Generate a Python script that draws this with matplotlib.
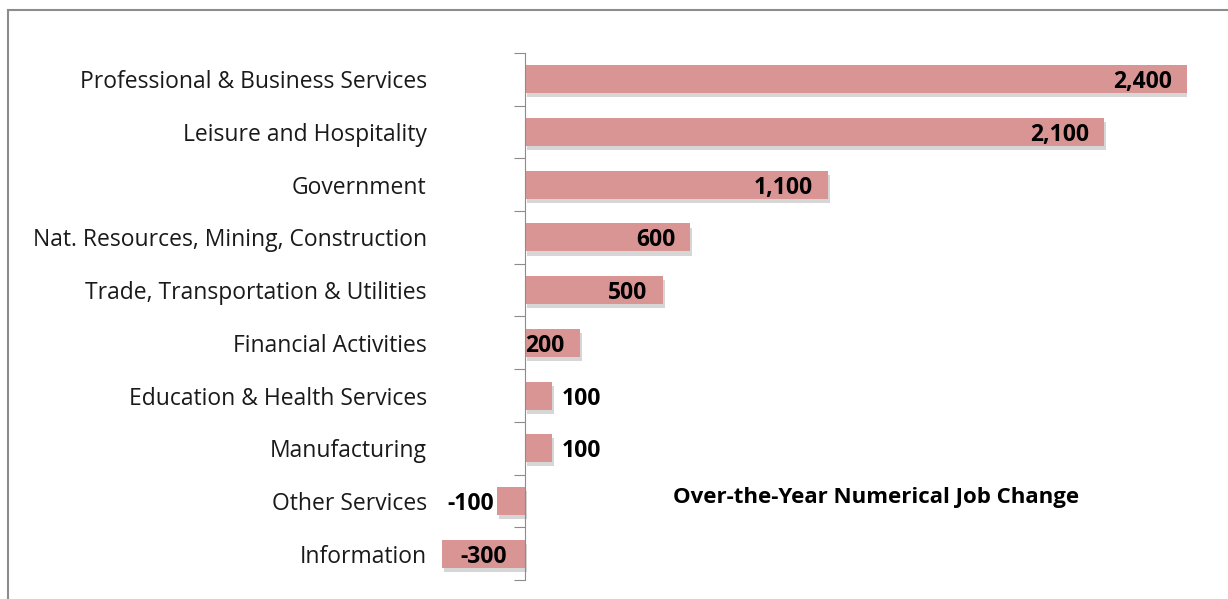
import matplotlib

matplotlib.use("Agg")
import matplotlib.pyplot as plt
from matplotlib.patches import Rectangle
import matplotlib.patheffects as pe

categories = [
    "Professional & Business Services",
    "Leisure and Hospitality",
    "Government",
    "Nat. Resources, Mining, Construction",
    "Trade, Transportation & Utilities",
    "Financial Activities",
    "Education & Health Services",
    "Manufacturing",
    "Other Services",
    "Information",
]
job_change = [2400, 2100, 1100, 600, 500, 200, 100, 100, -100, -300]
value_labels = ["2,400", "2,100", "1,100", "600", "500", "200", "100", "100", "-100", "-300"]
# where each label sits: inside end, outside end or centred
label_place = ["in", "in", "in", "in", "in", "in", "out", "out", "out", "center"]

bar_color = "#D99594"
font = "Open Sans"

fig = plt.figure(figsize=(12.28, 5.99), dpi=100)
fig.patches.append(Rectangle((8 / 1228, -0.1), 1.2, 1 - 10 / 599 + 0.1, transform=fig.transFigure,
                             fill=False, edgecolor="#8c8c8c", linewidth=1.5))

ax = fig.add_axes([442 / 1228, 19 / 599, (1187 - 442) / 1228, 527 / 599])
y = list(range(len(categories)))
bars = ax.barh(y, job_change, height=0.53, color=bar_color, zorder=2)
for b in bars:
    b.set_path_effects([pe.SimplePatchShadow(offset=(1.5, -3), shadow_rgbFace="#7a7a7a", alpha=0.3),
                        pe.Normal()])

ax.set_xlim(-300, 2400)
ax.set_ylim(len(categories) - 0.5, -0.5)

for spine in ["top", "right", "bottom"]:
    ax.spines[spine].set_visible(False)
ax.spines["left"].set_position(("data", 0))
ax.spines["left"].set_color("#8c8c8c")
ax.set_xticks([])
ax.set_yticks([i - 0.5 for i in range(len(categories) + 1)])
ax.set_yticklabels([])
ax.tick_params(axis="y", length=8, color="#8c8c8c", direction="out")

for i, name in enumerate(categories):
    ax.annotate(name, xy=(-300, i), xycoords="data", xytext=(-11, 0), textcoords="offset points",
                ha="right", va="center_baseline", fontsize=16.5, family=font, color="#1a1a1a")

for i, (v, lab, place) in enumerate(zip(job_change, value_labels, label_place)):
    if place == "in":
        ax.annotate(lab, xy=(v, i), xytext=(-11, 0), textcoords="offset points",
                    ha="right", va="center_baseline", fontsize=16.5, fontweight="bold", family=font)
    elif place == "out":
        off = 7 if v > 0 else -2
        ax.annotate(lab, xy=(v, i), xytext=(off, 0), textcoords="offset points",
                    ha="left" if v > 0 else "right", va="center_baseline", fontsize=16.5,
                    fontweight="bold", family=font)
    else:
        ax.text(v / 2, i, lab, ha="center", va="center_baseline", fontsize=16.5, fontweight="bold", family=font)

ax.text(673 / 1228, 1 - 498 / 599, "Over-the-Year Numerical Job Change", transform=fig.transFigure,
        ha="left", va="center", fontsize=16, fontweight="bold", family=font)

fig.savefig("out.png", dpi=100)
